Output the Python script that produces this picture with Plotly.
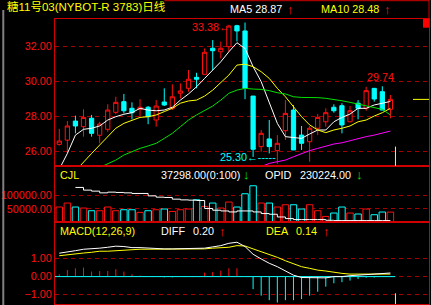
import plotly.graph_objects as go

# ---------------- data ----------------
idx = list(range(1, 43))
open_ = [26.42, 26.66, 27.75, 27.43, 27.91, 26.94, 27.28, 28.25, 28.86, 28.48,
         28.42, 28.54, 27.81, 28.84, 28.48, 29.34, 29.62, 30.25, 30.42, 31.91,
         31.71, 32.00, 33.20, 32.90, 29.18, 26.29, 26.73, 26.06, 27.20, 28.38,
         26.95, 26.57, 27.34, 27.71, 28.54, 28.63, 27.71, 28.77, 28.48, 29.62,
         29.43, 28.42]
high = [27.30, 27.75, 28.06, 28.42, 28.10, 27.71, 28.71, 29.14, 29.30, 28.82,
        29.00, 28.61, 28.95, 29.62, 29.85, 29.90, 30.67, 30.51, 31.90, 32.38,
        32.29, 33.25, 33.25, 33.38, 29.18, 27.24, 27.81, 26.95, 28.95, 28.67,
        27.47, 27.47, 28.15, 28.48, 28.71, 28.77, 28.61, 28.95, 29.71, 29.62,
        29.74, 29.24]
low = [26.35, 25.90, 27.05, 26.86, 26.86, 26.48, 27.14, 28.14, 28.19, 27.85,
       28.00, 27.57, 27.43, 28.61, 28.38, 29.05, 29.43, 29.62, 30.42, 30.67,
       31.33, 31.71, 32.30, 29.00, 25.70, 26.00, 25.90, 25.30, 26.67, 26.10,
       26.10, 25.43, 26.95, 27.43, 28.23, 27.05, 27.71, 27.85, 28.34, 28.86,
       28.38, 27.91]
close = [26.61, 27.47, 27.47, 27.96, 27.05, 27.58, 28.38, 28.82, 28.34, 28.23,
         28.54, 28.00, 28.61, 28.67, 29.14, 29.47, 30.14, 30.14, 31.68, 31.77,
         31.91, 33.18, 32.90, 29.62, 26.14, 27.05, 26.29, 26.48, 28.19, 26.10,
         26.48, 27.34, 27.96, 28.23, 28.34, 27.53, 28.34, 28.48, 29.49, 29.01,
         28.38, 28.99]

ma5 = [25.00, 25.90, 26.95, 27.28, 27.34, 27.47, 27.81, 28.00, 28.14, 28.23,
       28.48, 28.38, 28.34, 28.38, 28.54, 28.95, 29.30, 29.71, 30.19, 30.67,
       31.14, 31.71, 32.23, 31.90, 30.86, 30.00, 28.77, 27.62, 26.86, 26.82,
       26.76, 27.01, 27.24, 27.24, 27.71, 27.96, 28.15, 28.48, 28.48, 28.67,
       28.77, 28.87]
ma10 = [None, None, 24.90, 25.43, 25.90, 26.38, 26.86, 27.34, 27.62, 27.77,
        27.96, 28.00, 28.10, 28.29, 28.48, 28.77, 28.90, 28.95, 29.18, 29.52,
        29.96, 30.38, 30.95, 31.00, 30.86, 30.57, 30.19, 29.62, 29.14, 28.57,
        28.00, 27.53, 27.24, 27.09, 27.24, 27.34, 27.47, 27.71, 27.81, 28.04,
        28.23, 28.48]
ma20 = [None, None, None, None, None, 25.10, 25.33, 25.52, 25.81, 26.00,
        26.19, 26.33, 26.48, 26.76, 27.05, 27.43, 27.81, 28.10, 28.34, 28.61,
        28.95, 29.34, 29.52, 29.62, 29.58, 29.56, 29.49, 29.37, 29.30, 29.14,
        29.10, 29.10, 29.09, 29.05, 28.99, 28.91, 28.82, 28.72, 28.61, 28.54,
        28.42, 28.10]
ma60 = [None] * 25 + [25.15, 25.33, 25.43, 25.52, 25.71, 25.90, 26.06, 26.19,
                      26.33, 26.44, 26.51, 26.63, 26.76, 26.86, 26.95, 27.05,
                      27.18]

volume = [56400, 71400, 56400, 52600, 42500, 42500, 56400, 42500, 46200, 46200,
          36100, 42500, 46200, 48900, 39800, 46200, 48900, 83800, 58600, 71400,
          52600, 75200, 56400, 106400, 136500, 71400, 71400, 56400, 65000, 65000,
          48900, 65000, 42500, 21000, 33800, 56400, 33800, 30100, 48900, 27400,
          37600, 37298]
open_interest = [None, None, 312700, 306000, 303500, 299200, 301000, 300200, 299200, 297700,
                 297700, 291700, 288500, 287700, 283500, 281700, 281000, 280200, 260200, 256000,
                 254200, 251700, 254200, 254200, 251700, 247700, 246000, 239200, 235200, 232700,
                 232700, 232700, 232700, 231000, 230224, 230224, 230224, 230224, 230224, 230224,
                 230224, 230224]

diff = [1.30, 1.35, 1.44, 1.52, 1.54, 1.58, 1.63, 1.69, 1.67, 1.61,
        1.61, 1.58, 1.54, 1.54, 1.54, 1.54, 1.54, 1.54, 1.58, 1.65,
        1.72, 1.85, 1.91, 1.67, 1.24, 0.98, 0.74, 0.55, 0.32, 0.08,
        -0.05, -0.07, -0.07, -0.07, 0.00, 0.00, 0.05, 0.08, 0.12, 0.14,
        0.18, 0.20]
dea = [1.16, 1.22, 1.24, 1.31, 1.35, 1.41, 1.41, 1.44, 1.48, 1.52,
       1.52, 1.52, 1.52, 1.52, 1.52, 1.52, 1.52, 1.52, 1.54, 1.58,
       1.61, 1.63, 1.72, 1.70, 1.54, 1.39, 1.24, 1.07, 0.88, 0.70,
       0.55, 0.46, 0.36, 0.31, 0.23, 0.18, 0.14, 0.14, 0.14, 0.14,
       0.14, 0.14]
macd_hist = [0.13, 0.37, 0.46, 0.50, 0.28, 0.31, 0.31, 0.41, 0.28, 0.13,
             0.06, 0.02, 0.00, -0.04, -0.04, 0.00, 0.00, 0.02, 0.22, 0.25,
             0.33, 0.46, 0.46, 0.00, -0.70, -1.06, -1.31, -1.44, -1.31, -1.31,
             -1.25, -1.06, -0.84, -0.56, -0.37, -0.31, -0.22, -0.13, -0.06, -0.05,
             0.00, 0.03]

high_label, low_label, recent_high_label = "33.38", "25.30", "29.74"
price_ticks = [26, 28, 30, 32]
vol_ticks = [50000, 100000]
macd_ticks = [-1, 0, 1]

# ---------------- styling ----------------
RED = "#ff1010"
AXRED = "#d00000"
GRID = "#a80000"
CYAN = "#00ffff"
YEL = "#ffff00"
WHITE = "#ffffff"
GREEN = "#00e000"
MAG = "#ff00ff"
FONT = "Liberation Sans Narrow, Liberation Sans, Arial, Noto Sans CJK SC, sans-serif"
FS = 10.8

W, H = 431, 305
L, R, T, B = 53, 2, 19, 1
PW, PH = W - L - R, H - T - B


def pxx(px):
    return (px - L) / PW


def pxy(py):
    return (H - B - py) / PH


xr = [0.47, 46.78]
up = [c >= o for o, c in zip(open_, close)]

fig = go.Figure()

# candles
fig.add_trace(go.Candlestick(
    x=idx, open=open_, high=high, low=low, close=close,
    increasing=dict(line=dict(color=RED, width=1), fillcolor="black"),
    decreasing=dict(line=dict(color=CYAN, width=1), fillcolor=CYAN),
    whiskerwidth=0, xaxis="x", yaxis="y", showlegend=False, hoverinfo="skip"))

for arr, col in [(ma5, WHITE), (ma10, YEL), (ma20, GREEN), (ma60, MAG)]:
    fig.add_trace(go.Scatter(x=idx, y=arr, mode="lines", line=dict(color=col, width=1),
                             xaxis="x", yaxis="y", showlegend=False, hoverinfo="skip"))

# volume
fig.add_trace(go.Bar(x=idx, y=volume, width=0.8,
                     marker=dict(color="black",
                                 line=dict(color=[RED if u else CYAN for u in up], width=1)),
                     xaxis="x2", yaxis="y2", showlegend=False, hoverinfo="skip"))
fig.add_trace(go.Scatter(x=idx, y=open_interest, mode="lines", line=dict(color=WHITE, width=1, shape="hv"),
                         xaxis="x2", yaxis="y4", showlegend=False, hoverinfo="skip"))

# macd histogram as thin sticks
for sign, col in [(1, RED), (-1, CYAN)]:
    xs, ys = [], []
    for i, v in zip(idx, macd_hist):
        if (v > 0 and sign > 0) or (v < 0 and sign < 0):
            xs += [i, i, None]
            ys += [0, v, None]
    fig.add_trace(go.Scatter(x=xs, y=ys, mode="lines", line=dict(color=col, width=1),
                             xaxis="x3", yaxis="y3", showlegend=False, hoverinfo="skip"))
fig.add_trace(go.Scatter(x=[xr[0], idx[-1] + 0.6], y=[0, 0], mode="lines",
                         line=dict(color=CYAN, width=1), xaxis="x3", yaxis="y3",
                         showlegend=False, hoverinfo="skip"))
fig.add_trace(go.Scatter(x=idx, y=dea, mode="lines", line=dict(color=YEL, width=1),
                         xaxis="x3", yaxis="y3", showlegend=False, hoverinfo="skip"))
fig.add_trace(go.Scatter(x=idx, y=diff, mode="lines", line=dict(color=WHITE, width=1),
                         xaxis="x3", yaxis="y3", showlegend=False, hoverinfo="skip"))

axis_common = dict(showline=True, linecolor=AXRED, linewidth=1, mirror=True,
                   zeroline=False, showgrid=False, ticks="", fixedrange=True)
yaxis_common = dict(axis_common)
yaxis_common.update(showgrid=True, gridcolor=GRID, gridwidth=1, griddash="4px,4px",
                    tickformat=".2f", tickfont=dict(family=FONT, size=FS, color=RED))

main_dom = [pxy(166), 1]
vol_dom = [pxy(222), pxy(166)]
macd_dom = [0, pxy(222)]

fig.update_layout(
    width=W, height=H, margin=dict(l=L, r=R, t=T, b=B),
    paper_bgcolor="black", plot_bgcolor="black", boxgap=0.25,
    xaxis=dict(domain=[0, 1], anchor="y", range=xr, showticklabels=False,
               rangeslider=dict(visible=False), **axis_common),
    xaxis2=dict(domain=[0, 1], anchor="y2", range=xr, showticklabels=False, **axis_common),
    xaxis3=dict(domain=[0, 1], anchor="y3", range=xr, showticklabels=False, **axis_common),
    yaxis=dict(domain=main_dom, anchor="x", range=[25.183, 33.583], tickvals=price_ticks,
               **yaxis_common),
    yaxis2=dict(domain=vol_dom, anchor="x2", range=[0, 211000], tickvals=vol_ticks,
                **yaxis_common),
    yaxis3=dict(domain=macd_dom, anchor="x3", range=[-1.522, 3.033], tickvals=macd_ticks,
                **yaxis_common),
    yaxis4=dict(overlaying="y2", anchor="x2", range=[226700, 366000], visible=False,
                fixedrange=True),
)

ann = []


def txt(px, py, s, col, size=FS, xanchor="left"):
    ann.append(dict(x=pxx(px - 2), y=pxy(py), xref="paper", yref="paper", text=s,
                    showarrow=False, xanchor=xanchor, yanchor="middle",
                    font=dict(family=FONT, size=size, color=col)))


ARW = 13
txt(5, 6.5, "糖11号03(NYBOT-R 3783)日线", YEL, 11.5)
txt(229, 9.5, f"MA5 {ma5[-1]:.2f}", WHITE)
txt(286, 9.5, "↑", RED, ARW)
txt(320.5, 9.5, f"MA10 {ma10[-1]:.2f}", YEL)
txt(384, 9.5, "↑", RED, ARW)
txt(58, 175, "CJL", YEL)
txt(160, 175, f"{volume[-1]:.2f}(0:100)", WHITE)
txt(242, 175, "↓", GREEN, ARW)
txt(264, 175, "OPID", WHITE)
txt(299, 175, f"{open_interest[-1]:.2f}", WHITE)
txt(356, 175, "↓", GREEN, ARW)
txt(58, 231, "MACD(12,26,9)", YEL)
txt(160, 231, "DIFF", WHITE)
txt(192, 231, f"{diff[-1]:.2f}", WHITE)
txt(218, 231, "↑", RED, ARW)
txt(265, 231, "DEA", YEL)
txt(295, 231, f"{dea[-1]:.2f}", YEL)
txt(322, 231, "↑", RED, ARW)

ann.append(dict(x=22.4, y=33.12, xref="x", yref="y", text=high_label + "←", showarrow=False,
                xanchor="right", yanchor="middle", font=dict(family=FONT, size=FS, color=RED)))
ann.append(dict(x=40.8, y=30.27, xref="x", yref="y", text=recent_high_label, showarrow=False,
                xanchor="center", yanchor="middle", font=dict(family=FONT, size=FS, color=RED)))
ann.append(dict(x=28.1, y=25.67, xref="x", yref="y", text=low_label + "←-----", showarrow=False,
                xanchor="right", yanchor="middle", font=dict(family=FONT, size=FS, color=CYAN)))
fig.update_layout(annotations=ann)

shapes = [
    dict(type="line", xref="paper", yref="paper", x0=pxx(163), x1=pxx(429.5), y0=pxy(0.7), y1=pxy(0.7),
         line=dict(color=AXRED, width=1)),
    dict(type="line", xref="paper", yref="paper", x0=1, x1=1, y0=1, y1=pxy(0),
         line=dict(color=AXRED, width=1)),
    dict(type="rect", xref="paper", yref="paper", x0=pxx(423), x1=1, y0=pxy(27.7), y1=1,
         fillcolor="#ff0000", line=dict(width=0)),
    dict(type="rect", xref="paper", yref="paper", x0=pxx(0), x1=pxx(2), y0=pxy(305), y1=pxy(10),
         fillcolor="#808080", line=dict(width=0)),
    dict(type="line", xref="x", yref="y", x0=44.8, x1=xr[1], y0=close[-1], y1=close[-1],
         line=dict(color=YEL, width=1)),
    dict(type="line", xref="x", yref="y", x0=42.63, x1=42.63, y0=25.183, y1=26.29,
         line=dict(color=YEL, width=1)),
    dict(type="line", xref="x3", yref="y3", x0=42.63, x1=42.63, y0=-1.522, y1=-0.93,
         line=dict(color=YEL, width=1)),
]
fig.update_layout(shapes=shapes)

fig.write_html("out.html")
